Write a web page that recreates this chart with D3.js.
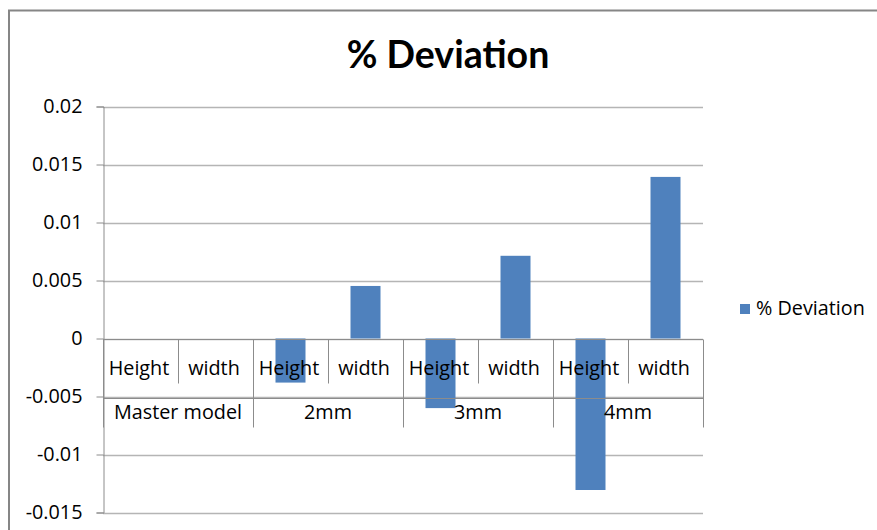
<!DOCTYPE html>
<html>
<head>
<meta charset="utf-8">
<script src="https://cdn.jsdelivr.net/npm/d3@7"></script>
<style>
  html, body { margin: 0; padding: 0; background: #fff; }
  svg { display: block; font-family: "Open Sans", Lato, sans-serif; }
</style>
</head>
<body>
<svg id="chart" width="877" height="530"></svg>
<script>
// Deviation values per measurement, grouped by model
const groups = ["Master model", "2mm", "3mm", "4mm"];
const measures = ["Height", "width"];
const deviation = [0, 0, -0.0038, 0.00453, -0.0060, 0.00713, -0.01306, 0.01393];
const yTicks = [0.02, 0.015, 0.01, 0.005, 0, -0.005, -0.01, -0.015];
const yTickLabels = ["0.02", "0.015", "0.01", "0.005", "0", "-0.005", "-0.01", "-0.015"];
const seriesName = "% Deviation";

const svg = d3.select("#chart");
const W = 877, H = 530;
const plot = { left: 103, right: 703, top: 106.5, bottom: 512.5 };
const labelSize = 19.8;

// one slot per (group, measure) pair
const slots = [];
groups.forEach((g, gi) => measures.forEach((m, mi) => slots.push({ group: g, measure: m, key: gi + "-" + mi, value: deviation[gi * measures.length + mi] })));

const x = d3.scaleBand()
  .domain(slots.map(d => d.key))
  .range([plot.left, plot.right])
  .paddingInner(0.6)
  .paddingOuter(0.3);
const step = x.step();

const y = d3.scaleLinear()
  .domain([d3.min(yTicks), d3.max(yTicks)])
  .range([plot.bottom, plot.top]);

// outer chart frame
svg.append("rect")
  .attr("x", 9).attr("y", 10.5)
  .attr("width", W + 20).attr("height", H + 20)
  .attr("fill", "none")
  .attr("stroke", "#868686")
  .attr("stroke-width", 2);

// title
svg.append("text")
  .attr("x", 448).attr("y", 68)
  .attr("text-anchor", "middle")
  .attr("font-family", "Lato, 'Open Sans', sans-serif")
  .attr("font-size", 37.5)
  .attr("font-weight", "bold")
  .attr("fill", "#000")
  .text(seriesName);

// horizontal gridlines
svg.append("g")
  .selectAll("line")
  .data(yTicks)
  .join("line")
  .attr("x1", plot.left).attr("x2", plot.right)
  .attr("y1", d => Math.round(y(d)) + 0.5)
  .attr("y2", d => Math.round(y(d)) + 0.5)
  .attr("stroke", "#b5b5b5")
  .attr("stroke-width", 1.5);

// y axis
const yAxis = d3.axisLeft(y)
  .tickValues(yTicks)
  .tickSize(7)
  .tickPadding(14)
  .tickFormat((d, i) => yTickLabels[i]);
const gy = svg.append("g")
  .attr("transform", `translate(${plot.left + 0.5},0)`)
  .call(yAxis);
gy.select(".domain").attr("stroke", "#8c8c8c").attr("stroke-width", 1);
gy.selectAll(".tick line").attr("stroke", "#8c8c8c");
gy.selectAll(".tick text")
  .attr("font-family", "'Open Sans', Lato, sans-serif")
  .attr("font-size", labelSize)
  .attr("fill", "#000");

// bars
svg.append("g")
  .selectAll("rect")
  .data(slots.filter(d => d.value !== 0))
  .join("rect")
  .attr("x", d => x(d.key))
  .attr("width", x.bandwidth())
  .attr("y", d => y(Math.max(0, d.value)))
  .attr("height", d => Math.abs(y(d.value) - y(0)))
  .attr("fill", "#4f81bd");

// two-level category axis drawn on the zero line
const y0 = Math.round(y(0)) + 0.5;
const row1 = y0 + 58;
const row2 = row1 + 30;
const cat = svg.append("g");
cat.append("line")
  .attr("x1", plot.left).attr("x2", plot.right)
  .attr("y1", y0).attr("y2", y0)
  .attr("stroke", "#8c8c8c");
cat.append("line")
  .attr("x1", plot.left).attr("x2", plot.right)
  .attr("y1", Math.round(row1) + 0.5).attr("y2", Math.round(row1) + 0.5)
  .attr("stroke", "#8c8c8c");

// separators between measures (short) and between groups (full height)
slots.forEach((d, i) => {
  const sx = Math.round(x(d.key) - x.bandwidth() * 0.75) + 0.5;
  const isGroupEdge = i % measures.length === 0;
  cat.append("line")
    .attr("x1", sx).attr("x2", sx)
    .attr("y1", y0).attr("y2", isGroupEdge ? row2 : y0 + 44)
    .attr("stroke", "#8c8c8c");
});
cat.append("line")
  .attr("x1", plot.right + 0.5).attr("x2", plot.right + 0.5)
  .attr("y1", y0).attr("y2", row2)
  .attr("stroke", "#8c8c8c");

cat.selectAll("text.measure")
  .data(slots)
  .join("text")
  .attr("class", "measure")
  .attr("x", d => x(d.key) + x.bandwidth() / 2 - 1.5)
  .attr("y", y0 + 35.5)
  .attr("text-anchor", "middle")
  .attr("font-size", labelSize)
  .attr("fill", "#000")
  .text(d => d.measure);

cat.selectAll("text.group")
  .data(groups)
  .join("text")
  .attr("class", "group")
  .attr("x", (g, gi) => plot.left + step * measures.length * (gi + 0.5))
  .attr("y", row1 + 21)
  .attr("text-anchor", "middle")
  .attr("font-size", labelSize)
  .attr("fill", "#000")
  .text(g => g);

// legend
const lg = svg.append("g").attr("transform", "translate(740,304)");
lg.append("rect").attr("width", 10).attr("height", 10).attr("fill", "#4f81bd");
lg.append("text")
  .attr("x", 16).attr("y", 11)
  .attr("font-size", labelSize)
  .attr("fill", "#000")
  .text(seriesName);
</script>
</body>
</html>
